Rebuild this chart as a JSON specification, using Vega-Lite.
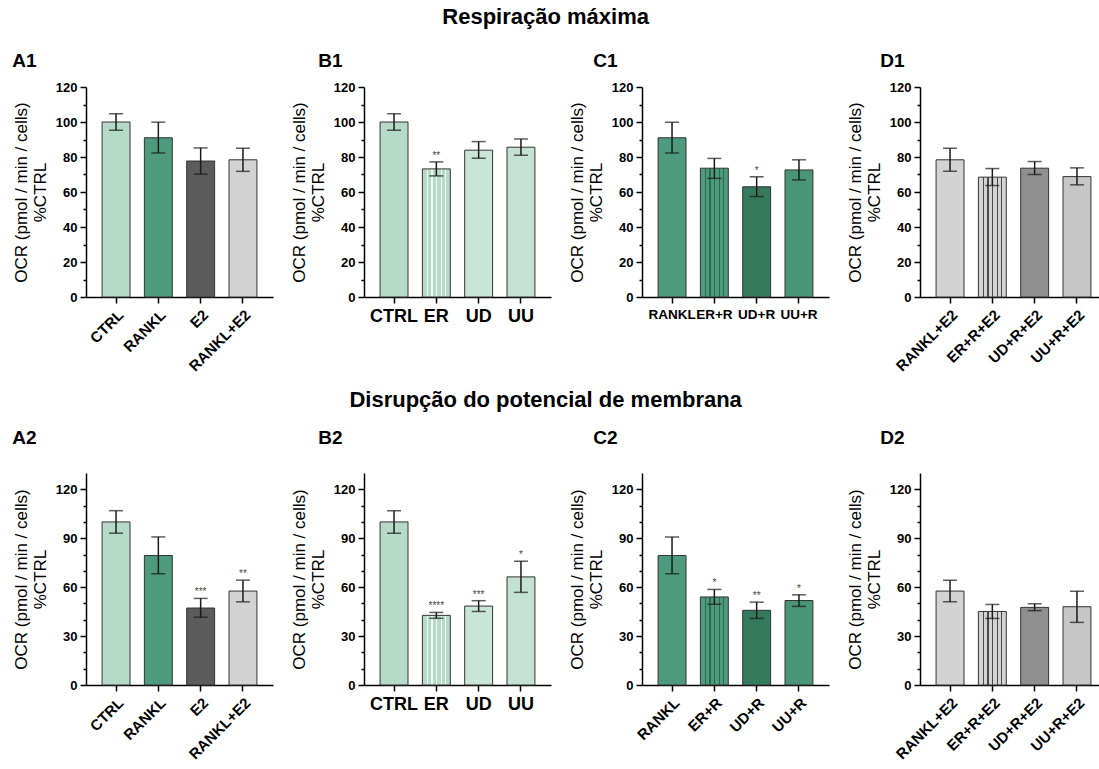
{
  "$schema": "https://vega.github.io/schema/vega-lite/v6.json",
  "padding": {"left": 12, "top": 6, "right": 0, "bottom": 0},
  "background": "white",
  "config": {
    "font": "Liberation Sans",
    "view": {"stroke": null},
    "axis": {"domainColor": "#000", "domainWidth": 1.5, "tickColor": "#000", "tickWidth": 1.5, "labelColor": "#000", "labelFontWeight": "bold", "labelFont": "Liberation Sans", "titleFont": "Liberation Sans", "titleColor": "#000", "titleFontWeight": "normal", "grid": false},
    "axisY": {"labelFontSize": 13, "titleFontSize": 17, "titlePadding": 6, "labelPadding": 3},
    "axisX": {"tickSize": 6, "labelPadding": 4},
    "title": {"font": "Liberation Sans", "fontWeight": "bold", "color": "#000"}
  },
  "datasets": {
    "d": [
      {"panel": "A1", "group": "CTRL", "mean": 100, "lo": 95.3, "hi": 104.7, "sig": "", "pat": "none"},
      {"panel": "A1", "group": "RANKL", "mean": 91, "lo": 82.3, "hi": 99.9, "sig": "", "pat": "none"},
      {"panel": "A1", "group": "E2", "mean": 77.7, "lo": 70.2, "hi": 85.2, "sig": "", "pat": "none"},
      {"panel": "A1", "group": "RANKL+E2", "mean": 78.4, "lo": 71.8, "hi": 85.0, "sig": "", "pat": "none"},
      {"panel": "B1", "group": "CTRL", "mean": 100, "lo": 95.3, "hi": 104.7, "sig": "", "pat": "none"},
      {"panel": "B1", "group": "ER", "mean": 73.2, "lo": 69.2, "hi": 77.2, "sig": "**", "pat": "v"},
      {"panel": "B1", "group": "UD", "mean": 83.9, "lo": 79.3, "hi": 88.8, "sig": "", "pat": "d"},
      {"panel": "B1", "group": "UU", "mean": 85.6, "lo": 81.0, "hi": 90.3, "sig": "", "pat": "p"},
      {"panel": "C1", "group": "RANKL", "mean": 91, "lo": 82.3, "hi": 99.9, "sig": "", "pat": "none"},
      {"panel": "C1", "group": "ER+R", "mean": 73.6, "lo": 67.8, "hi": 79.2, "sig": "", "pat": "v"},
      {"panel": "C1", "group": "UD+R", "mean": 63.0, "lo": 57.4, "hi": 68.7, "sig": "*", "pat": "d"},
      {"panel": "C1", "group": "UU+R", "mean": 72.6, "lo": 66.9, "hi": 78.4, "sig": "", "pat": "p"},
      {"panel": "D1", "group": "RANKL+E2", "mean": 78.4, "lo": 71.8, "hi": 85.0, "sig": "", "pat": "none"},
      {"panel": "D1", "group": "ER+R+E2", "mean": 68.5, "lo": 63.7, "hi": 73.4, "sig": "", "pat": "v"},
      {"panel": "D1", "group": "UD+R+E2", "mean": 73.6, "lo": 70.0, "hi": 77.4, "sig": "", "pat": "d"},
      {"panel": "D1", "group": "UU+R+E2", "mean": 68.8, "lo": 64.1, "hi": 73.8, "sig": "", "pat": "p"},
      {"panel": "A2", "group": "CTRL", "mean": 100, "lo": 93.1, "hi": 106.9, "sig": "", "pat": "none"},
      {"panel": "A2", "group": "RANKL", "mean": 79.4, "lo": 68.2, "hi": 90.8, "sig": "", "pat": "none"},
      {"panel": "A2", "group": "E2", "mean": 47.2, "lo": 41.6, "hi": 53.1, "sig": "***", "pat": "none"},
      {"panel": "A2", "group": "RANKL+E2", "mean": 57.6, "lo": 51.0, "hi": 64.3, "sig": "**", "pat": "none"},
      {"panel": "B2", "group": "CTRL", "mean": 100, "lo": 93.1, "hi": 106.9, "sig": "", "pat": "none"},
      {"panel": "B2", "group": "ER", "mean": 42.7, "lo": 40.9, "hi": 44.5, "sig": "****", "pat": "v"},
      {"panel": "B2", "group": "UD", "mean": 48.4, "lo": 45.1, "hi": 51.7, "sig": "***", "pat": "d"},
      {"panel": "B2", "group": "UU", "mean": 66.3, "lo": 56.8, "hi": 75.9, "sig": "*", "pat": "p"},
      {"panel": "C2", "group": "RANKL", "mean": 79.4, "lo": 68.2, "hi": 90.8, "sig": "", "pat": "none"},
      {"panel": "C2", "group": "ER+R", "mean": 54.0, "lo": 49.5, "hi": 58.6, "sig": "*", "pat": "v"},
      {"panel": "C2", "group": "UD+R", "mean": 45.8, "lo": 40.8, "hi": 50.8, "sig": "**", "pat": "d"},
      {"panel": "C2", "group": "UU+R", "mean": 51.8, "lo": 48.2, "hi": 55.3, "sig": "*", "pat": "p"},
      {"panel": "D2", "group": "RANKL+E2", "mean": 57.6, "lo": 51.0, "hi": 64.3, "sig": "", "pat": "none"},
      {"panel": "D2", "group": "ER+R+E2", "mean": 45.1, "lo": 40.8, "hi": 49.4, "sig": "", "pat": "v"},
      {"panel": "D2", "group": "UD+R+E2", "mean": 47.6, "lo": 45.6, "hi": 49.8, "sig": "", "pat": "d"},
      {"panel": "D2", "group": "UU+R+E2", "mean": 48.0, "lo": 38.4, "hi": 57.5, "sig": "", "pat": "p"}
    ]
  },
  "data": {"name": "d"},
  "spacing": 15,
  "vconcat": [
    {
      "title": {"text": "Respiração máxima", "anchor": "middle", "fontSize": 22, "offset": 23, "dx": -14},
      "spacing": 91,
      "bounds": "flush",
      "hconcat": [
        {
          "title": {"text": "A1", "anchor": "start", "frame": "bounds", "fontSize": 19, "offset": 10},
          "width": 187, "height": 210,
          "transform": [{"filter": "datum.panel === 'A1'"}],
          "encoding": {"y": {"field": "mean", "type": "quantitative", "scale": {"domain": [0, 120], "nice": false}, "axis": {"title": ["OCR (pmol / min / cells)", "%CTRL"], "values": [0,10,20,30,40,50,60,70,80,90,100,110,120], "labelExpr": "datum.value % 20 === 0 ? datum.label : ''", "tickSize": {"condition": {"test": "datum.value % 20 === 0", "value": 6}, "value": 3}}}},
          "layer": [
            {"mark": {"type": "bar", "stroke": "#333", "strokeWidth": 1}, "encoding": {"x": {"field": "group", "type": "nominal", "sort": ["CTRL", "RANKL", "E2", "RANKL+E2"], "scale": {"paddingInner": 0.34, "paddingOuter": 0.38}, "axis": {"title": null, "labelAngle": -45, "labelFontSize": 15, "labelOverlap": false, "labelBound": false}}, "fill": {"field": "group", "type": "nominal", "legend": null, "scale": {"domain": ["CTRL","RANKL","E2","RANKL+E2","ER","UD","UU","ER+R","UD+R","UU+R","ER+R+E2","UD+R+E2","UU+R+E2"], "range": ["#b5dac8","#4e9a7e","#5c5c5c","#d3d3d3","#b5dac8","#c9e5d7","#c3e2d3","#4e9a7e","#367a5e","#4a9478","#d3d3d3","#8f8f8f","#c6c6c6"]}}}},
            {"mark": {"type": "rule", "color": "#1a1a1a", "strokeWidth": 1.5}, "encoding": {"x": {"field": "group", "type": "nominal", "sort": ["CTRL", "RANKL", "E2", "RANKL+E2"]}, "y": {"field": "lo", "type": "quantitative"}, "y2": {"field": "hi"}}},
            {"mark": {"type": "tick", "color": "#1a1a1a", "thickness": 1.5, "size": 14}, "encoding": {"x": {"field": "group", "type": "nominal", "sort": ["CTRL", "RANKL", "E2", "RANKL+E2"]}, "y": {"field": "lo", "type": "quantitative"}}},
            {"mark": {"type": "tick", "color": "#1a1a1a", "thickness": 1.5, "size": 14}, "encoding": {"x": {"field": "group", "type": "nominal", "sort": ["CTRL", "RANKL", "E2", "RANKL+E2"]}, "y": {"field": "hi", "type": "quantitative"}}},
            {"transform": [{"aggregate": [{"op": "count", "as": "n"}]}], "mark": {"type": "rule", "strokeDash": [1.5, 3.5], "color": "#000", "strokeWidth": 1.3}, "encoding": {"y": {"datum": 100, "type": "quantitative"}}}
          ]
        },
        {
          "title": {"text": "B1", "anchor": "start", "frame": "bounds", "fontSize": 19, "offset": 10, "dx": 28},
          "width": 187, "height": 210,
          "transform": [{"filter": "datum.panel === 'B1'"}],
          "encoding": {"y": {"field": "mean", "type": "quantitative", "scale": {"domain": [0, 120], "nice": false}, "axis": {"title": ["OCR (pmol / min / cells)", "%CTRL"], "values": [0,10,20,30,40,50,60,70,80,90,100,110,120], "labelExpr": "datum.value % 20 === 0 ? datum.label : ''", "tickSize": {"condition": {"test": "datum.value % 20 === 0", "value": 6}, "value": 3}}}},
          "layer": [
            {"transform": [{"filter": "datum.pat !== 'v'"}], "mark": {"type": "bar", "stroke": "#333", "strokeWidth": 1}, "encoding": {"x": {"field": "group", "type": "nominal", "sort": ["CTRL", "ER", "UD", "UU"], "scale": {"domain": ["CTRL", "ER", "UD", "UU"], "paddingInner": 0.34, "paddingOuter": 0.38}, "axis": {"title": null, "labelAngle": 0, "labelFontSize": 18, "labelOverlap": false}}, "fill": {"field": "group", "type": "nominal", "legend": null, "scale": {"domain": ["CTRL","RANKL","E2","RANKL+E2","ER","UD","UU","ER+R","UD+R","UU+R","ER+R+E2","UD+R+E2","UU+R+E2"], "range": ["#b5dac8","#4e9a7e","#5c5c5c","#d3d3d3","#b5dac8","#c9e5d7","#c3e2d3","#4e9a7e","#367a5e","#4a9478","#d3d3d3","#8f8f8f","#c6c6c6"]}}}},
            {"transform": [{"filter": "datum.pat === 'v'"}], "mark": {"type": "bar", "stroke": "#333", "strokeWidth": 1, "fill": {"gradient": "linear", "x1": 0, "y1": 0, "x2": 1, "y2": 0, "stops": [{"offset": 0, "color": "#b5dac8"}, {"offset": 0.16, "color": "#b5dac8"}, {"offset": 0.16, "color": "#f0f9f4"}, {"offset": 0.2, "color": "#f0f9f4"}, {"offset": 0.2, "color": "#b5dac8"}, {"offset": 0.325, "color": "#b5dac8"}, {"offset": 0.325, "color": "#f0f9f4"}, {"offset": 0.365, "color": "#f0f9f4"}, {"offset": 0.365, "color": "#b5dac8"}, {"offset": 0.49, "color": "#b5dac8"}, {"offset": 0.49, "color": "#f0f9f4"}, {"offset": 0.53, "color": "#f0f9f4"}, {"offset": 0.53, "color": "#b5dac8"}, {"offset": 0.655, "color": "#b5dac8"}, {"offset": 0.655, "color": "#f0f9f4"}, {"offset": 0.695, "color": "#f0f9f4"}, {"offset": 0.695, "color": "#b5dac8"}, {"offset": 0.82, "color": "#b5dac8"}, {"offset": 0.82, "color": "#f0f9f4"}, {"offset": 0.86, "color": "#f0f9f4"}, {"offset": 0.86, "color": "#b5dac8"}, {"offset": 1, "color": "#b5dac8"}]}}, "encoding": {"x": {"field": "group", "type": "nominal", "sort": ["CTRL", "ER", "UD", "UU"]}}},
            {"mark": {"type": "rule", "color": "#1a1a1a", "strokeWidth": 1.5}, "encoding": {"x": {"field": "group", "type": "nominal", "sort": ["CTRL", "ER", "UD", "UU"]}, "y": {"field": "lo", "type": "quantitative"}, "y2": {"field": "hi"}}},
            {"mark": {"type": "tick", "color": "#1a1a1a", "thickness": 1.5, "size": 14}, "encoding": {"x": {"field": "group", "type": "nominal", "sort": ["CTRL", "ER", "UD", "UU"]}, "y": {"field": "lo", "type": "quantitative"}}},
            {"mark": {"type": "tick", "color": "#1a1a1a", "thickness": 1.5, "size": 14}, "encoding": {"x": {"field": "group", "type": "nominal", "sort": ["CTRL", "ER", "UD", "UU"]}, "y": {"field": "hi", "type": "quantitative"}}},
            {"transform": [{"filter": "datum.sig !== ''"}], "mark": {"type": "text", "fontSize": 10, "color": "#444", "baseline": "bottom", "dy": -1}, "encoding": {"x": {"field": "group", "type": "nominal", "sort": ["CTRL", "ER", "UD", "UU"]}, "y": {"field": "hi", "type": "quantitative"}, "text": {"field": "sig"}}},
            {"transform": [{"aggregate": [{"op": "count", "as": "n"}]}], "mark": {"type": "rule", "strokeDash": [1.5, 3.5], "color": "#000", "strokeWidth": 1.3}, "encoding": {"y": {"datum": 100, "type": "quantitative"}}}
          ]
        },
        {
          "title": {"text": "C1", "anchor": "start", "frame": "bounds", "fontSize": 19, "offset": 10, "dx": 25},
          "width": 187, "height": 210,
          "transform": [{"filter": "datum.panel === 'C1'"}],
          "encoding": {"y": {"field": "mean", "type": "quantitative", "scale": {"domain": [0, 120], "nice": false}, "axis": {"title": ["OCR (pmol / min / cells)", "%CTRL"], "values": [0,10,20,30,40,50,60,70,80,90,100,110,120], "labelExpr": "datum.value % 20 === 0 ? datum.label : ''", "tickSize": {"condition": {"test": "datum.value % 20 === 0", "value": 6}, "value": 3}}}},
          "layer": [
            {"transform": [{"filter": "datum.pat !== 'v'"}], "mark": {"type": "bar", "stroke": "#333", "strokeWidth": 1}, "encoding": {"x": {"field": "group", "type": "nominal", "sort": ["RANKL", "ER+R", "UD+R", "UU+R"], "scale": {"domain": ["RANKL", "ER+R", "UD+R", "UU+R"], "paddingInner": 0.34, "paddingOuter": 0.38}, "axis": {"title": null, "labelAngle": 0, "labelFontSize": 13.5, "labelOverlap": false}}, "fill": {"field": "group", "type": "nominal", "legend": null, "scale": {"domain": ["CTRL","RANKL","E2","RANKL+E2","ER","UD","UU","ER+R","UD+R","UU+R","ER+R+E2","UD+R+E2","UU+R+E2"], "range": ["#b5dac8","#4e9a7e","#5c5c5c","#d3d3d3","#b5dac8","#c9e5d7","#c3e2d3","#4e9a7e","#367a5e","#4a9478","#d3d3d3","#8f8f8f","#c6c6c6"]}}}},
            {"transform": [{"filter": "datum.pat === 'v'"}], "mark": {"type": "bar", "stroke": "#333", "strokeWidth": 1, "fill": {"gradient": "linear", "x1": 0, "y1": 0, "x2": 1, "y2": 0, "stops": [{"offset": 0, "color": "#4e9a7e"}, {"offset": 0.16, "color": "#4e9a7e"}, {"offset": 0.16, "color": "#2b6a50"}, {"offset": 0.2, "color": "#2b6a50"}, {"offset": 0.2, "color": "#4e9a7e"}, {"offset": 0.325, "color": "#4e9a7e"}, {"offset": 0.325, "color": "#2b6a50"}, {"offset": 0.365, "color": "#2b6a50"}, {"offset": 0.365, "color": "#4e9a7e"}, {"offset": 0.49, "color": "#4e9a7e"}, {"offset": 0.49, "color": "#2b6a50"}, {"offset": 0.53, "color": "#2b6a50"}, {"offset": 0.53, "color": "#4e9a7e"}, {"offset": 0.655, "color": "#4e9a7e"}, {"offset": 0.655, "color": "#2b6a50"}, {"offset": 0.695, "color": "#2b6a50"}, {"offset": 0.695, "color": "#4e9a7e"}, {"offset": 0.82, "color": "#4e9a7e"}, {"offset": 0.82, "color": "#2b6a50"}, {"offset": 0.86, "color": "#2b6a50"}, {"offset": 0.86, "color": "#4e9a7e"}, {"offset": 1, "color": "#4e9a7e"}]}}, "encoding": {"x": {"field": "group", "type": "nominal", "sort": ["RANKL", "ER+R", "UD+R", "UU+R"]}}},
            {"mark": {"type": "rule", "color": "#1a1a1a", "strokeWidth": 1.5}, "encoding": {"x": {"field": "group", "type": "nominal", "sort": ["RANKL", "ER+R", "UD+R", "UU+R"]}, "y": {"field": "lo", "type": "quantitative"}, "y2": {"field": "hi"}}},
            {"mark": {"type": "tick", "color": "#1a1a1a", "thickness": 1.5, "size": 14}, "encoding": {"x": {"field": "group", "type": "nominal", "sort": ["RANKL", "ER+R", "UD+R", "UU+R"]}, "y": {"field": "lo", "type": "quantitative"}}},
            {"mark": {"type": "tick", "color": "#1a1a1a", "thickness": 1.5, "size": 14}, "encoding": {"x": {"field": "group", "type": "nominal", "sort": ["RANKL", "ER+R", "UD+R", "UU+R"]}, "y": {"field": "hi", "type": "quantitative"}}},
            {"transform": [{"filter": "datum.sig !== ''"}], "mark": {"type": "text", "fontSize": 10, "color": "#444", "baseline": "bottom", "dy": -1}, "encoding": {"x": {"field": "group", "type": "nominal", "sort": ["RANKL", "ER+R", "UD+R", "UU+R"]}, "y": {"field": "hi", "type": "quantitative"}, "text": {"field": "sig"}}},
            {"transform": [{"aggregate": [{"op": "count", "as": "n"}]}], "mark": {"type": "rule", "strokeDash": [1.5, 3.5], "color": "#000", "strokeWidth": 1.3}, "encoding": {"y": {"datum": 100, "type": "quantitative"}}}
          ]
        },
        {
          "title": {"text": "D1", "anchor": "start", "frame": "bounds", "fontSize": 19, "offset": 10, "dx": 34},
          "width": 187, "height": 210,
          "transform": [{"filter": "datum.panel === 'D1'"}],
          "encoding": {"y": {"field": "mean", "type": "quantitative", "scale": {"domain": [0, 120], "nice": false}, "axis": {"title": ["OCR (pmol / min / cells)", "%CTRL"], "values": [0,10,20,30,40,50,60,70,80,90,100,110,120], "labelExpr": "datum.value % 20 === 0 ? datum.label : ''", "tickSize": {"condition": {"test": "datum.value % 20 === 0", "value": 6}, "value": 3}}}},
          "layer": [
            {"transform": [{"filter": "datum.pat !== 'v'"}], "mark": {"type": "bar", "stroke": "#333", "strokeWidth": 1}, "encoding": {"x": {"field": "group", "type": "nominal", "sort": ["RANKL+E2", "ER+R+E2", "UD+R+E2", "UU+R+E2"], "scale": {"domain": ["RANKL+E2", "ER+R+E2", "UD+R+E2", "UU+R+E2"], "paddingInner": 0.34, "paddingOuter": 0.38}, "axis": {"title": null, "labelAngle": -45, "labelFontSize": 15, "labelOverlap": false, "labelBound": false}}, "fill": {"field": "group", "type": "nominal", "legend": null, "scale": {"domain": ["CTRL","RANKL","E2","RANKL+E2","ER","UD","UU","ER+R","UD+R","UU+R","ER+R+E2","UD+R+E2","UU+R+E2"], "range": ["#b5dac8","#4e9a7e","#5c5c5c","#d3d3d3","#b5dac8","#c9e5d7","#c3e2d3","#4e9a7e","#367a5e","#4a9478","#d3d3d3","#8f8f8f","#c6c6c6"]}}}},
            {"transform": [{"filter": "datum.pat === 'v'"}], "mark": {"type": "bar", "stroke": "#333", "strokeWidth": 1, "fill": {"gradient": "linear", "x1": 0, "y1": 0, "x2": 1, "y2": 0, "stops": [{"offset": 0, "color": "#d3d3d3"}, {"offset": 0.16, "color": "#d3d3d3"}, {"offset": 0.16, "color": "#4a4a4a"}, {"offset": 0.2, "color": "#4a4a4a"}, {"offset": 0.2, "color": "#d3d3d3"}, {"offset": 0.325, "color": "#d3d3d3"}, {"offset": 0.325, "color": "#4a4a4a"}, {"offset": 0.365, "color": "#4a4a4a"}, {"offset": 0.365, "color": "#d3d3d3"}, {"offset": 0.49, "color": "#d3d3d3"}, {"offset": 0.49, "color": "#4a4a4a"}, {"offset": 0.53, "color": "#4a4a4a"}, {"offset": 0.53, "color": "#d3d3d3"}, {"offset": 0.655, "color": "#d3d3d3"}, {"offset": 0.655, "color": "#4a4a4a"}, {"offset": 0.695, "color": "#4a4a4a"}, {"offset": 0.695, "color": "#d3d3d3"}, {"offset": 0.82, "color": "#d3d3d3"}, {"offset": 0.82, "color": "#4a4a4a"}, {"offset": 0.86, "color": "#4a4a4a"}, {"offset": 0.86, "color": "#d3d3d3"}, {"offset": 1, "color": "#d3d3d3"}]}}, "encoding": {"x": {"field": "group", "type": "nominal", "sort": ["RANKL+E2", "ER+R+E2", "UD+R+E2", "UU+R+E2"]}}},
            {"mark": {"type": "rule", "color": "#1a1a1a", "strokeWidth": 1.5}, "encoding": {"x": {"field": "group", "type": "nominal", "sort": ["RANKL+E2", "ER+R+E2", "UD+R+E2", "UU+R+E2"]}, "y": {"field": "lo", "type": "quantitative"}, "y2": {"field": "hi"}}},
            {"mark": {"type": "tick", "color": "#1a1a1a", "thickness": 1.5, "size": 14}, "encoding": {"x": {"field": "group", "type": "nominal", "sort": ["RANKL+E2", "ER+R+E2", "UD+R+E2", "UU+R+E2"]}, "y": {"field": "lo", "type": "quantitative"}}},
            {"mark": {"type": "tick", "color": "#1a1a1a", "thickness": 1.5, "size": 14}, "encoding": {"x": {"field": "group", "type": "nominal", "sort": ["RANKL+E2", "ER+R+E2", "UD+R+E2", "UU+R+E2"]}, "y": {"field": "hi", "type": "quantitative"}}},
            {"transform": [{"aggregate": [{"op": "count", "as": "n"}]}], "mark": {"type": "rule", "strokeDash": [1.5, 3.5], "color": "#000", "strokeWidth": 1.3}, "encoding": {"y": {"datum": 100, "type": "quantitative"}}}
          ]
        }
      ]
    },
    {
      "title": {"text": "Disrupção do potencial de membrana", "anchor": "middle", "fontSize": 22, "offset": 17, "dx": -14},
      "spacing": 91,
      "bounds": "flush",
      "hconcat": [
        {
          "title": {"text": "A2", "anchor": "start", "frame": "bounds", "fontSize": 19, "offset": 25},
          "width": 187, "height": 212,
          "transform": [{"filter": "datum.panel === 'A2'"}],
          "encoding": {"y": {"field": "mean", "type": "quantitative", "scale": {"domain": [0, 130], "nice": false}, "axis": {"title": ["OCR (pmol / min / cells)", "%CTRL"], "values": [0,10,20,30,40,50,60,70,80,90,100,110,120], "labelExpr": "datum.value % 30 === 0 ? datum.label : ''", "tickSize": {"condition": {"test": "datum.value % 30 === 0", "value": 6}, "value": 3}}}},
          "layer": [
            {"mark": {"type": "bar", "stroke": "#333", "strokeWidth": 1}, "encoding": {"x": {"field": "group", "type": "nominal", "sort": ["CTRL", "RANKL", "E2", "RANKL+E2"], "scale": {"paddingInner": 0.34, "paddingOuter": 0.38}, "axis": {"title": null, "labelAngle": -45, "labelFontSize": 15, "labelOverlap": false, "labelBound": false}}, "fill": {"field": "group", "type": "nominal", "legend": null, "scale": {"domain": ["CTRL","RANKL","E2","RANKL+E2","ER","UD","UU","ER+R","UD+R","UU+R","ER+R+E2","UD+R+E2","UU+R+E2"], "range": ["#b5dac8","#4e9a7e","#5c5c5c","#d3d3d3","#b5dac8","#c9e5d7","#c3e2d3","#4e9a7e","#367a5e","#4a9478","#d3d3d3","#8f8f8f","#c6c6c6"]}}}},
            {"mark": {"type": "rule", "color": "#1a1a1a", "strokeWidth": 1.5}, "encoding": {"x": {"field": "group", "type": "nominal", "sort": ["CTRL", "RANKL", "E2", "RANKL+E2"]}, "y": {"field": "lo", "type": "quantitative"}, "y2": {"field": "hi"}}},
            {"mark": {"type": "tick", "color": "#1a1a1a", "thickness": 1.5, "size": 14}, "encoding": {"x": {"field": "group", "type": "nominal", "sort": ["CTRL", "RANKL", "E2", "RANKL+E2"]}, "y": {"field": "lo", "type": "quantitative"}}},
            {"mark": {"type": "tick", "color": "#1a1a1a", "thickness": 1.5, "size": 14}, "encoding": {"x": {"field": "group", "type": "nominal", "sort": ["CTRL", "RANKL", "E2", "RANKL+E2"]}, "y": {"field": "hi", "type": "quantitative"}}},
            {"transform": [{"filter": "datum.sig !== ''"}], "mark": {"type": "text", "fontSize": 10, "color": "#444", "baseline": "bottom", "dy": -1}, "encoding": {"x": {"field": "group", "type": "nominal", "sort": ["CTRL", "RANKL", "E2", "RANKL+E2"]}, "y": {"field": "hi", "type": "quantitative"}, "text": {"field": "sig"}}},
            {"transform": [{"aggregate": [{"op": "count", "as": "n"}]}], "mark": {"type": "rule", "strokeDash": [1.5, 3.5], "color": "#000", "strokeWidth": 1.3}, "encoding": {"y": {"datum": 100, "type": "quantitative"}}}
          ]
        },
        {
          "title": {"text": "B2", "anchor": "start", "frame": "bounds", "fontSize": 19, "offset": 25, "dx": 28},
          "width": 187, "height": 212,
          "transform": [{"filter": "datum.panel === 'B2'"}],
          "encoding": {"y": {"field": "mean", "type": "quantitative", "scale": {"domain": [0, 130], "nice": false}, "axis": {"title": ["OCR (pmol / min / cells)", "%CTRL"], "values": [0,10,20,30,40,50,60,70,80,90,100,110,120], "labelExpr": "datum.value % 30 === 0 ? datum.label : ''", "tickSize": {"condition": {"test": "datum.value % 30 === 0", "value": 6}, "value": 3}}}},
          "layer": [
            {"transform": [{"filter": "datum.pat !== 'v'"}], "mark": {"type": "bar", "stroke": "#333", "strokeWidth": 1}, "encoding": {"x": {"field": "group", "type": "nominal", "sort": ["CTRL", "ER", "UD", "UU"], "scale": {"domain": ["CTRL", "ER", "UD", "UU"], "paddingInner": 0.34, "paddingOuter": 0.38}, "axis": {"title": null, "labelAngle": 0, "labelFontSize": 18, "labelOverlap": false}}, "fill": {"field": "group", "type": "nominal", "legend": null, "scale": {"domain": ["CTRL","RANKL","E2","RANKL+E2","ER","UD","UU","ER+R","UD+R","UU+R","ER+R+E2","UD+R+E2","UU+R+E2"], "range": ["#b5dac8","#4e9a7e","#5c5c5c","#d3d3d3","#b5dac8","#c9e5d7","#c3e2d3","#4e9a7e","#367a5e","#4a9478","#d3d3d3","#8f8f8f","#c6c6c6"]}}}},
            {"transform": [{"filter": "datum.pat === 'v'"}], "mark": {"type": "bar", "stroke": "#333", "strokeWidth": 1, "fill": {"gradient": "linear", "x1": 0, "y1": 0, "x2": 1, "y2": 0, "stops": [{"offset": 0, "color": "#b5dac8"}, {"offset": 0.16, "color": "#b5dac8"}, {"offset": 0.16, "color": "#f0f9f4"}, {"offset": 0.2, "color": "#f0f9f4"}, {"offset": 0.2, "color": "#b5dac8"}, {"offset": 0.325, "color": "#b5dac8"}, {"offset": 0.325, "color": "#f0f9f4"}, {"offset": 0.365, "color": "#f0f9f4"}, {"offset": 0.365, "color": "#b5dac8"}, {"offset": 0.49, "color": "#b5dac8"}, {"offset": 0.49, "color": "#f0f9f4"}, {"offset": 0.53, "color": "#f0f9f4"}, {"offset": 0.53, "color": "#b5dac8"}, {"offset": 0.655, "color": "#b5dac8"}, {"offset": 0.655, "color": "#f0f9f4"}, {"offset": 0.695, "color": "#f0f9f4"}, {"offset": 0.695, "color": "#b5dac8"}, {"offset": 0.82, "color": "#b5dac8"}, {"offset": 0.82, "color": "#f0f9f4"}, {"offset": 0.86, "color": "#f0f9f4"}, {"offset": 0.86, "color": "#b5dac8"}, {"offset": 1, "color": "#b5dac8"}]}}, "encoding": {"x": {"field": "group", "type": "nominal", "sort": ["CTRL", "ER", "UD", "UU"]}}},
            {"mark": {"type": "rule", "color": "#1a1a1a", "strokeWidth": 1.5}, "encoding": {"x": {"field": "group", "type": "nominal", "sort": ["CTRL", "ER", "UD", "UU"]}, "y": {"field": "lo", "type": "quantitative"}, "y2": {"field": "hi"}}},
            {"mark": {"type": "tick", "color": "#1a1a1a", "thickness": 1.5, "size": 14}, "encoding": {"x": {"field": "group", "type": "nominal", "sort": ["CTRL", "ER", "UD", "UU"]}, "y": {"field": "lo", "type": "quantitative"}}},
            {"mark": {"type": "tick", "color": "#1a1a1a", "thickness": 1.5, "size": 14}, "encoding": {"x": {"field": "group", "type": "nominal", "sort": ["CTRL", "ER", "UD", "UU"]}, "y": {"field": "hi", "type": "quantitative"}}},
            {"transform": [{"filter": "datum.sig !== ''"}], "mark": {"type": "text", "fontSize": 10, "color": "#444", "baseline": "bottom", "dy": -1}, "encoding": {"x": {"field": "group", "type": "nominal", "sort": ["CTRL", "ER", "UD", "UU"]}, "y": {"field": "hi", "type": "quantitative"}, "text": {"field": "sig"}}},
            {"transform": [{"aggregate": [{"op": "count", "as": "n"}]}], "mark": {"type": "rule", "strokeDash": [1.5, 3.5], "color": "#000", "strokeWidth": 1.3}, "encoding": {"y": {"datum": 100, "type": "quantitative"}}}
          ]
        },
        {
          "title": {"text": "C2", "anchor": "start", "frame": "bounds", "fontSize": 19, "offset": 25, "dx": 25},
          "width": 187, "height": 212,
          "transform": [{"filter": "datum.panel === 'C2'"}],
          "encoding": {"y": {"field": "mean", "type": "quantitative", "scale": {"domain": [0, 130], "nice": false}, "axis": {"title": ["OCR (pmol / min / cells)", "%CTRL"], "values": [0,10,20,30,40,50,60,70,80,90,100,110,120], "labelExpr": "datum.value % 30 === 0 ? datum.label : ''", "tickSize": {"condition": {"test": "datum.value % 30 === 0", "value": 6}, "value": 3}}}},
          "layer": [
            {"transform": [{"filter": "datum.pat !== 'v'"}], "mark": {"type": "bar", "stroke": "#333", "strokeWidth": 1}, "encoding": {"x": {"field": "group", "type": "nominal", "sort": ["RANKL", "ER+R", "UD+R", "UU+R"], "scale": {"domain": ["RANKL", "ER+R", "UD+R", "UU+R"], "paddingInner": 0.34, "paddingOuter": 0.38}, "axis": {"title": null, "labelAngle": -45, "labelFontSize": 15, "labelOverlap": false, "labelBound": false}}, "fill": {"field": "group", "type": "nominal", "legend": null, "scale": {"domain": ["CTRL","RANKL","E2","RANKL+E2","ER","UD","UU","ER+R","UD+R","UU+R","ER+R+E2","UD+R+E2","UU+R+E2"], "range": ["#b5dac8","#4e9a7e","#5c5c5c","#d3d3d3","#b5dac8","#c9e5d7","#c3e2d3","#4e9a7e","#367a5e","#4a9478","#d3d3d3","#8f8f8f","#c6c6c6"]}}}},
            {"transform": [{"filter": "datum.pat === 'v'"}], "mark": {"type": "bar", "stroke": "#333", "strokeWidth": 1, "fill": {"gradient": "linear", "x1": 0, "y1": 0, "x2": 1, "y2": 0, "stops": [{"offset": 0, "color": "#4e9a7e"}, {"offset": 0.16, "color": "#4e9a7e"}, {"offset": 0.16, "color": "#2b6a50"}, {"offset": 0.2, "color": "#2b6a50"}, {"offset": 0.2, "color": "#4e9a7e"}, {"offset": 0.325, "color": "#4e9a7e"}, {"offset": 0.325, "color": "#2b6a50"}, {"offset": 0.365, "color": "#2b6a50"}, {"offset": 0.365, "color": "#4e9a7e"}, {"offset": 0.49, "color": "#4e9a7e"}, {"offset": 0.49, "color": "#2b6a50"}, {"offset": 0.53, "color": "#2b6a50"}, {"offset": 0.53, "color": "#4e9a7e"}, {"offset": 0.655, "color": "#4e9a7e"}, {"offset": 0.655, "color": "#2b6a50"}, {"offset": 0.695, "color": "#2b6a50"}, {"offset": 0.695, "color": "#4e9a7e"}, {"offset": 0.82, "color": "#4e9a7e"}, {"offset": 0.82, "color": "#2b6a50"}, {"offset": 0.86, "color": "#2b6a50"}, {"offset": 0.86, "color": "#4e9a7e"}, {"offset": 1, "color": "#4e9a7e"}]}}, "encoding": {"x": {"field": "group", "type": "nominal", "sort": ["RANKL", "ER+R", "UD+R", "UU+R"]}}},
            {"mark": {"type": "rule", "color": "#1a1a1a", "strokeWidth": 1.5}, "encoding": {"x": {"field": "group", "type": "nominal", "sort": ["RANKL", "ER+R", "UD+R", "UU+R"]}, "y": {"field": "lo", "type": "quantitative"}, "y2": {"field": "hi"}}},
            {"mark": {"type": "tick", "color": "#1a1a1a", "thickness": 1.5, "size": 14}, "encoding": {"x": {"field": "group", "type": "nominal", "sort": ["RANKL", "ER+R", "UD+R", "UU+R"]}, "y": {"field": "lo", "type": "quantitative"}}},
            {"mark": {"type": "tick", "color": "#1a1a1a", "thickness": 1.5, "size": 14}, "encoding": {"x": {"field": "group", "type": "nominal", "sort": ["RANKL", "ER+R", "UD+R", "UU+R"]}, "y": {"field": "hi", "type": "quantitative"}}},
            {"transform": [{"filter": "datum.sig !== ''"}], "mark": {"type": "text", "fontSize": 10, "color": "#444", "baseline": "bottom", "dy": -1}, "encoding": {"x": {"field": "group", "type": "nominal", "sort": ["RANKL", "ER+R", "UD+R", "UU+R"]}, "y": {"field": "hi", "type": "quantitative"}, "text": {"field": "sig"}}},
            {"transform": [{"aggregate": [{"op": "count", "as": "n"}]}], "mark": {"type": "rule", "strokeDash": [1.5, 3.5], "color": "#000", "strokeWidth": 1.3}, "encoding": {"y": {"datum": 100, "type": "quantitative"}}}
          ]
        },
        {
          "title": {"text": "D2", "anchor": "start", "frame": "bounds", "fontSize": 19, "offset": 25, "dx": 34},
          "width": 187, "height": 212,
          "transform": [{"filter": "datum.panel === 'D2'"}],
          "encoding": {"y": {"field": "mean", "type": "quantitative", "scale": {"domain": [0, 130], "nice": false}, "axis": {"title": ["OCR (pmol / min / cells)", "%CTRL"], "values": [0,10,20,30,40,50,60,70,80,90,100,110,120], "labelExpr": "datum.value % 30 === 0 ? datum.label : ''", "tickSize": {"condition": {"test": "datum.value % 30 === 0", "value": 6}, "value": 3}}}},
          "layer": [
            {"transform": [{"filter": "datum.pat !== 'v'"}], "mark": {"type": "bar", "stroke": "#333", "strokeWidth": 1}, "encoding": {"x": {"field": "group", "type": "nominal", "sort": ["RANKL+E2", "ER+R+E2", "UD+R+E2", "UU+R+E2"], "scale": {"domain": ["RANKL+E2", "ER+R+E2", "UD+R+E2", "UU+R+E2"], "paddingInner": 0.34, "paddingOuter": 0.38}, "axis": {"title": null, "labelAngle": -45, "labelFontSize": 15, "labelOverlap": false, "labelBound": false}}, "fill": {"field": "group", "type": "nominal", "legend": null, "scale": {"domain": ["CTRL","RANKL","E2","RANKL+E2","ER","UD","UU","ER+R","UD+R","UU+R","ER+R+E2","UD+R+E2","UU+R+E2"], "range": ["#b5dac8","#4e9a7e","#5c5c5c","#d3d3d3","#b5dac8","#c9e5d7","#c3e2d3","#4e9a7e","#367a5e","#4a9478","#d3d3d3","#8f8f8f","#c6c6c6"]}}}},
            {"transform": [{"filter": "datum.pat === 'v'"}], "mark": {"type": "bar", "stroke": "#333", "strokeWidth": 1, "fill": {"gradient": "linear", "x1": 0, "y1": 0, "x2": 1, "y2": 0, "stops": [{"offset": 0, "color": "#d3d3d3"}, {"offset": 0.16, "color": "#d3d3d3"}, {"offset": 0.16, "color": "#4a4a4a"}, {"offset": 0.2, "color": "#4a4a4a"}, {"offset": 0.2, "color": "#d3d3d3"}, {"offset": 0.325, "color": "#d3d3d3"}, {"offset": 0.325, "color": "#4a4a4a"}, {"offset": 0.365, "color": "#4a4a4a"}, {"offset": 0.365, "color": "#d3d3d3"}, {"offset": 0.49, "color": "#d3d3d3"}, {"offset": 0.49, "color": "#4a4a4a"}, {"offset": 0.53, "color": "#4a4a4a"}, {"offset": 0.53, "color": "#d3d3d3"}, {"offset": 0.655, "color": "#d3d3d3"}, {"offset": 0.655, "color": "#4a4a4a"}, {"offset": 0.695, "color": "#4a4a4a"}, {"offset": 0.695, "color": "#d3d3d3"}, {"offset": 0.82, "color": "#d3d3d3"}, {"offset": 0.82, "color": "#4a4a4a"}, {"offset": 0.86, "color": "#4a4a4a"}, {"offset": 0.86, "color": "#d3d3d3"}, {"offset": 1, "color": "#d3d3d3"}]}}, "encoding": {"x": {"field": "group", "type": "nominal", "sort": ["RANKL+E2", "ER+R+E2", "UD+R+E2", "UU+R+E2"]}}},
            {"mark": {"type": "rule", "color": "#1a1a1a", "strokeWidth": 1.5}, "encoding": {"x": {"field": "group", "type": "nominal", "sort": ["RANKL+E2", "ER+R+E2", "UD+R+E2", "UU+R+E2"]}, "y": {"field": "lo", "type": "quantitative"}, "y2": {"field": "hi"}}},
            {"mark": {"type": "tick", "color": "#1a1a1a", "thickness": 1.5, "size": 14}, "encoding": {"x": {"field": "group", "type": "nominal", "sort": ["RANKL+E2", "ER+R+E2", "UD+R+E2", "UU+R+E2"]}, "y": {"field": "lo", "type": "quantitative"}}},
            {"mark": {"type": "tick", "color": "#1a1a1a", "thickness": 1.5, "size": 14}, "encoding": {"x": {"field": "group", "type": "nominal", "sort": ["RANKL+E2", "ER+R+E2", "UD+R+E2", "UU+R+E2"]}, "y": {"field": "hi", "type": "quantitative"}}},
            {"transform": [{"aggregate": [{"op": "count", "as": "n"}]}], "mark": {"type": "rule", "strokeDash": [1.5, 3.5], "color": "#000", "strokeWidth": 1.3}, "encoding": {"y": {"datum": 100, "type": "quantitative"}}}
          ]
        }
      ]
    }
  ]
}
